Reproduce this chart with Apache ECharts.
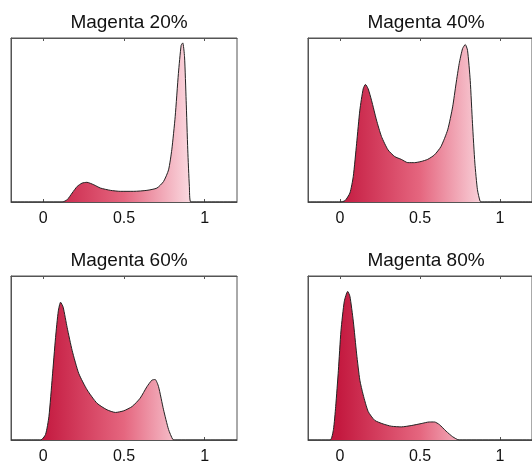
<!DOCTYPE html>
<html>
<head>
<meta charset="utf-8">
<script src="https://cdn.jsdelivr.net/npm/echarts@6/dist/echarts.min.js"></script>
<style>
  html, body { margin: 0; padding: 0; background: #fff; }
  #chart { width: 532px; height: 465px; }
</style>
</head>
<body>
<div id="chart"></div>
<script>
// histogram outlines, [tone, relative height]
var m20 = [[-0.2,0],[0.117,0],[0.148,0.014],[0.179,0.055],[0.21,0.095],[0.24,0.115],[0.27,0.12],[0.313,0.105],[0.354,0.085],[0.416,0.071],[0.477,0.065],[0.56,0.065],[0.642,0.071],[0.704,0.085],[0.745,0.125],[0.776,0.196],[0.796,0.318],[0.817,0.52],[0.837,0.783],[0.854,0.955],[0.864,0.97],[0.875,0.885],[0.885,0.62],[0.895,0.318],[0.905,0.095],[0.914,0],[1.2,0]]
var m40 = [[-0.2,0],[0.0,0],[0.031,0.008],[0.062,0.055],[0.083,0.156],[0.104,0.358],[0.124,0.56],[0.145,0.69],[0.159,0.717],[0.176,0.69],[0.197,0.62],[0.228,0.5],[0.259,0.4],[0.3,0.318],[0.342,0.277],[0.383,0.26],[0.424,0.24],[0.466,0.24],[0.507,0.247],[0.548,0.26],[0.59,0.287],[0.631,0.338],[0.673,0.44],[0.704,0.58],[0.725,0.72],[0.745,0.844],[0.766,0.935],[0.783,0.96],[0.797,0.925],[0.814,0.74],[0.828,0.48],[0.843,0.237],[0.859,0.075],[0.876,0.004],[0.89,0],[1.2,0]]
var m60 = [[-0.2,0],[-0.016,0],[0.014,0.034],[0.035,0.144],[0.056,0.385],[0.076,0.625],[0.093,0.786],[0.107,0.84],[0.123,0.81],[0.148,0.685],[0.179,0.545],[0.22,0.405],[0.272,0.305],[0.333,0.224],[0.395,0.184],[0.447,0.168],[0.498,0.178],[0.55,0.204],[0.6,0.255],[0.642,0.325],[0.673,0.365],[0.693,0.369],[0.714,0.325],[0.745,0.184],[0.776,0.064],[0.802,0.004],[0.817,0],[1.2,0]]
var m80 = [[-0.2,0],[-0.062,0],[-0.041,0.064],[-0.027,0.204],[-0.01,0.425],[0.006,0.665],[0.027,0.846],[0.048,0.906],[0.062,0.876],[0.083,0.725],[0.104,0.525],[0.124,0.365],[0.145,0.275],[0.176,0.174],[0.217,0.12],[0.269,0.098],[0.321,0.084],[0.383,0.08],[0.445,0.088],[0.507,0.1],[0.559,0.11],[0.59,0.11],[0.621,0.094],[0.663,0.054],[0.704,0.02],[0.745,0],[1.2,0]]

var titles = ['Magenta 20%', 'Magenta 40%', 'Magenta 60%', 'Magenta 80%']
var xTicks = [0, 0.5, 1]
var allData = [m20, m40, m60, m80]

// panel boxes in px
var boxes = [
  { left: 11, top: 38, width: 226, height: 164 },
  { left: 308, top: 38, width: 226, height: 164 },
  { left: 11, top: 276, width: 226, height: 167 },
  { left: 308, top: 276, width: 226, height: 167 }
]

var chart = echarts.init(document.getElementById('chart'))

// gradient goes along tone: x=-0.2 .. 1.2 maps to 0..1 of the shape box
function fillGrad() {
  return new echarts.graphic.LinearGradient(0, 0, 1, 0, [
    { offset: 0, color: '#b8123a' },
    { offset: 0.143, color: '#c41a40' },
    { offset: 0.5, color: '#e5667f' },
    { offset: 0.857, color: '#fff2f5' },
    { offset: 1, color: '#ffffff' }
  ])
}

var grid = [], xAxis = [], yAxis = [], series = [], title = []
boxes.forEach(function(b, i) {
  grid.push({ left: b.left, top: b.top, width: b.width, height: b.height, show: true, borderColor: '#555', borderWidth: 1, backgroundColor: '#fff' })
  title.push({
    text: titles[i],
    left: b.left + b.width / 2,
    top: b.top - 30,
    textAlign: 'center',
    textStyle: { fontFamily: 'Liberation Sans, Arial', fontSize: 19, fontWeight: 'normal', color: '#111' }
  })
  xAxis.push({
    type: 'value', gridIndex: i, min: -0.2, max: 1.2, position: 'bottom',
    axisLine: { show: true, onZero: false, lineStyle: { color: '#555' } },
    axisTick: { show: true, inside: true, length: 3, customValues: xTicks, lineStyle: { color: '#555' } },
    axisLabel: { customValues: xTicks, margin: 9, fontFamily: 'Liberation Sans, Arial', fontSize: 16, color: '#111',
      formatter: function(v) { return String(v) } },
    splitLine: { show: false }
  })
  xAxis.push({
    type: 'value', gridIndex: i, min: -0.2, max: 1.2, position: 'top',
    axisLine: { show: true, onZero: false, lineStyle: { color: '#555' } },
    axisTick: { show: true, inside: true, length: 3, customValues: xTicks, lineStyle: { color: '#555' } },
    axisLabel: { show: false },
    splitLine: { show: false }
  })
  yAxis.push({
    type: 'value', gridIndex: i, min: 0, max: 1, position: 'left',
    axisLine: { show: true, onZero: false, lineStyle: { color: '#555' } },
    axisTick: { show: false }, axisLabel: { show: false }, splitLine: { show: false }
  })
  series.push({
    type: 'line', xAxisIndex: i * 2, yAxisIndex: i,
    data: allData[i], smooth: 0.2, symbol: 'none',
    lineStyle: { color: '#222', width: 1 },
    areaStyle: { color: fillGrad(), opacity: 1 },
    z: 1
  })
})

chart.setOption({
  backgroundColor: '#fff',
  animation: false,
  title: title,
  grid: grid,
  xAxis: xAxis,
  yAxis: yAxis,
  series: series
})
</script>
</body>
</html>
